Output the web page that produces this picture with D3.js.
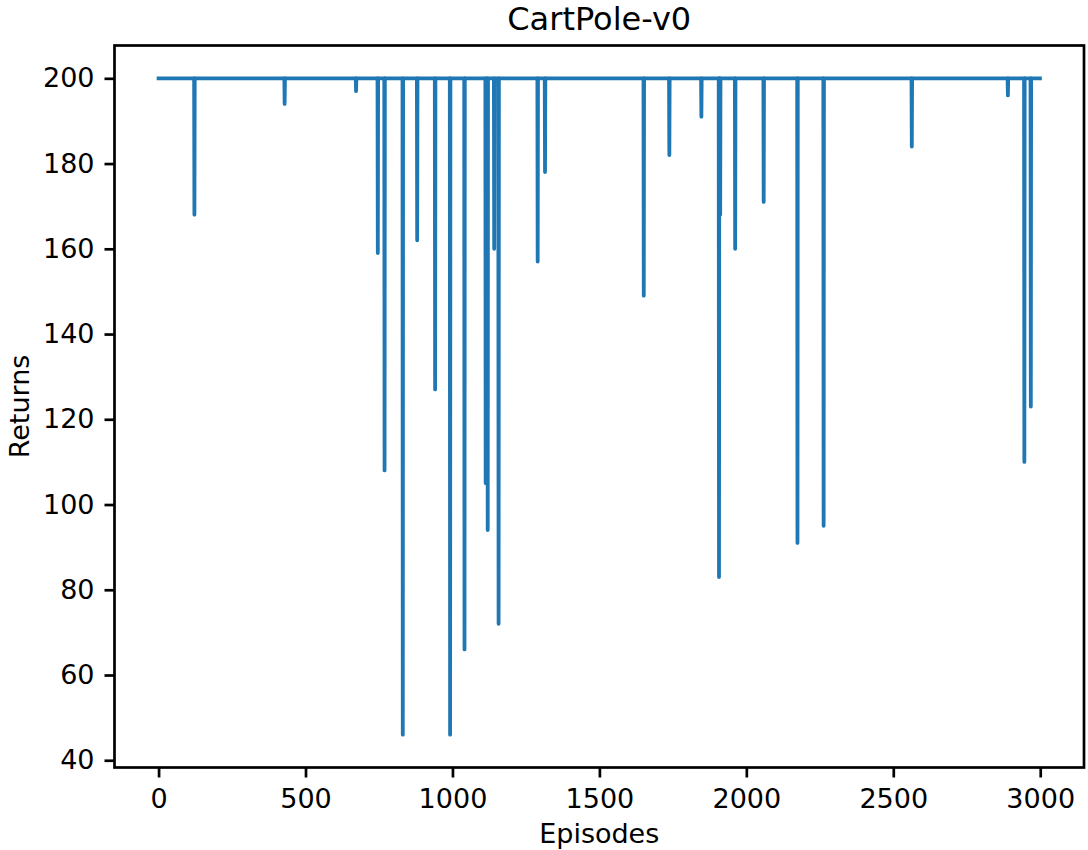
<!DOCTYPE html>
<html>
<head>
<meta charset="utf-8">
<script src="https://cdn.jsdelivr.net/npm/d3@7"></script>
<style>
  body { margin: 0; background: #fff; }
  text { font-family: "DejaVu Sans", sans-serif; fill: #000; }
</style>
</head>
<body>
<svg id="chart"></svg>
<script>
// episodes run 0..2999, the return is 200 unless the episode is listed as a dip
const nEpisodes = 3000;
const fullReturn = 200;
const dipEpisodes = [122, 429, 672, 746, 769, 831, 880, 941, 992, 1041, 1113, 1120, 1142, 1157,
  1290, 1315, 1651, 1738, 1847, 1907, 1911, 1962, 2059, 2174, 2263, 2563, 2890, 2946, 2968];
const dipReturns = [168, 194, 197, 159, 108, 46, 162, 127, 46, 66, 105, 94, 160, 72,
  157, 178, 149, 182, 191, 83, 168, 160, 171, 91, 95, 184, 196, 110, 123];
const xTicks = [0, 500, 1000, 1500, 2000, 2500, 3000];
const yTicks = [40, 60, 80, 100, 120, 140, 160, 180, 200];

const width = 1088, height = 850;
const margin = {top: 45.5, right: 4, bottom: 82.5, left: 114.5};
const fontSize = 27;

const dips = new Map(dipEpisodes.map((e, i) => [e, dipReturns[i]]));
const series = d3.range(nEpisodes).map(e => ({episode: e, ret: dips.has(e) ? dips.get(e) : fullReturn}));

let svg = d3.select('#chart')
    .attr('width', width)
    .attr('height', height)
    .attr('viewBox', [0, 0, width, height]);

// matplotlib style 5% margins round the data
function padded(ext) {
    const p = (ext[1] - ext[0]) * 0.05;
    return [ext[0] - p, ext[1] + p];
}

const x = d3.scaleLinear()
    .domain(padded(d3.extent(series, d => d.episode)))
    .range([margin.left, width - margin.right]);

const y = d3.scaleLinear()
    .domain(padded(d3.extent(series, d => d.ret)))
    .range([height - margin.bottom, margin.top]);

const line = d3.line()
    .x(d => x(d.episode))
    .y(d => y(d.ret));

svg.append('path')
    .datum(series)
    .attr('d', line)
    .attr('fill', 'none')
    .attr('stroke', '#1f77b4')
    .attr('stroke-width', 3.8)
    .attr('stroke-linejoin', 'round')
    .attr('stroke-linecap', 'square');

const xAxis = svg.append('g')
    .attr('transform', `translate(0,${height - margin.bottom})`)
    .call(d3.axisBottom(x).tickValues(xTicks).tickFormat(d3.format('d')).tickSize(10).tickPadding(11));

const yAxis = svg.append('g')
    .attr('transform', `translate(${margin.left},0)`)
    .call(d3.axisLeft(y).tickValues(yTicks).tickFormat(d3.format('d')).tickSize(10).tickPadding(10));

[xAxis, yAxis].forEach(g => {
    g.select('.domain').remove();
    g.selectAll('.tick line').attr('stroke', '#000').attr('stroke-width', 2.7);
    g.selectAll('.tick text')
        .style('font-size', fontSize + 'px')
        .attr('fill', '#000');
});

// spines
svg.append('rect')
    .attr('x', margin.left)
    .attr('y', margin.top)
    .attr('width', width - margin.left - margin.right)
    .attr('height', height - margin.top - margin.bottom)
    .attr('fill', 'none')
    .attr('stroke', '#000')
    .attr('stroke-width', 2.7);

const midX = (margin.left + width - margin.right) / 2;
const midY = (margin.top + height - margin.bottom) / 2;

svg.append('text')
    .attr('x', midX)
    .attr('y', 30)
    .attr('text-anchor', 'middle')
    .style('font-size', '32px')
    .text('CartPole-v0');

svg.append('text')
    .attr('x', midX)
    .attr('y', 842.5)
    .attr('text-anchor', 'middle')
    .style('font-size', fontSize + 'px')
    .text('Episodes');

svg.append('text')
    .attr('transform', `translate(28.5,${midY}) rotate(-90)`)
    .attr('text-anchor', 'middle')
    .style('font-size', fontSize + 'px')
    .text('Returns');
</script>
</body>
</html>
